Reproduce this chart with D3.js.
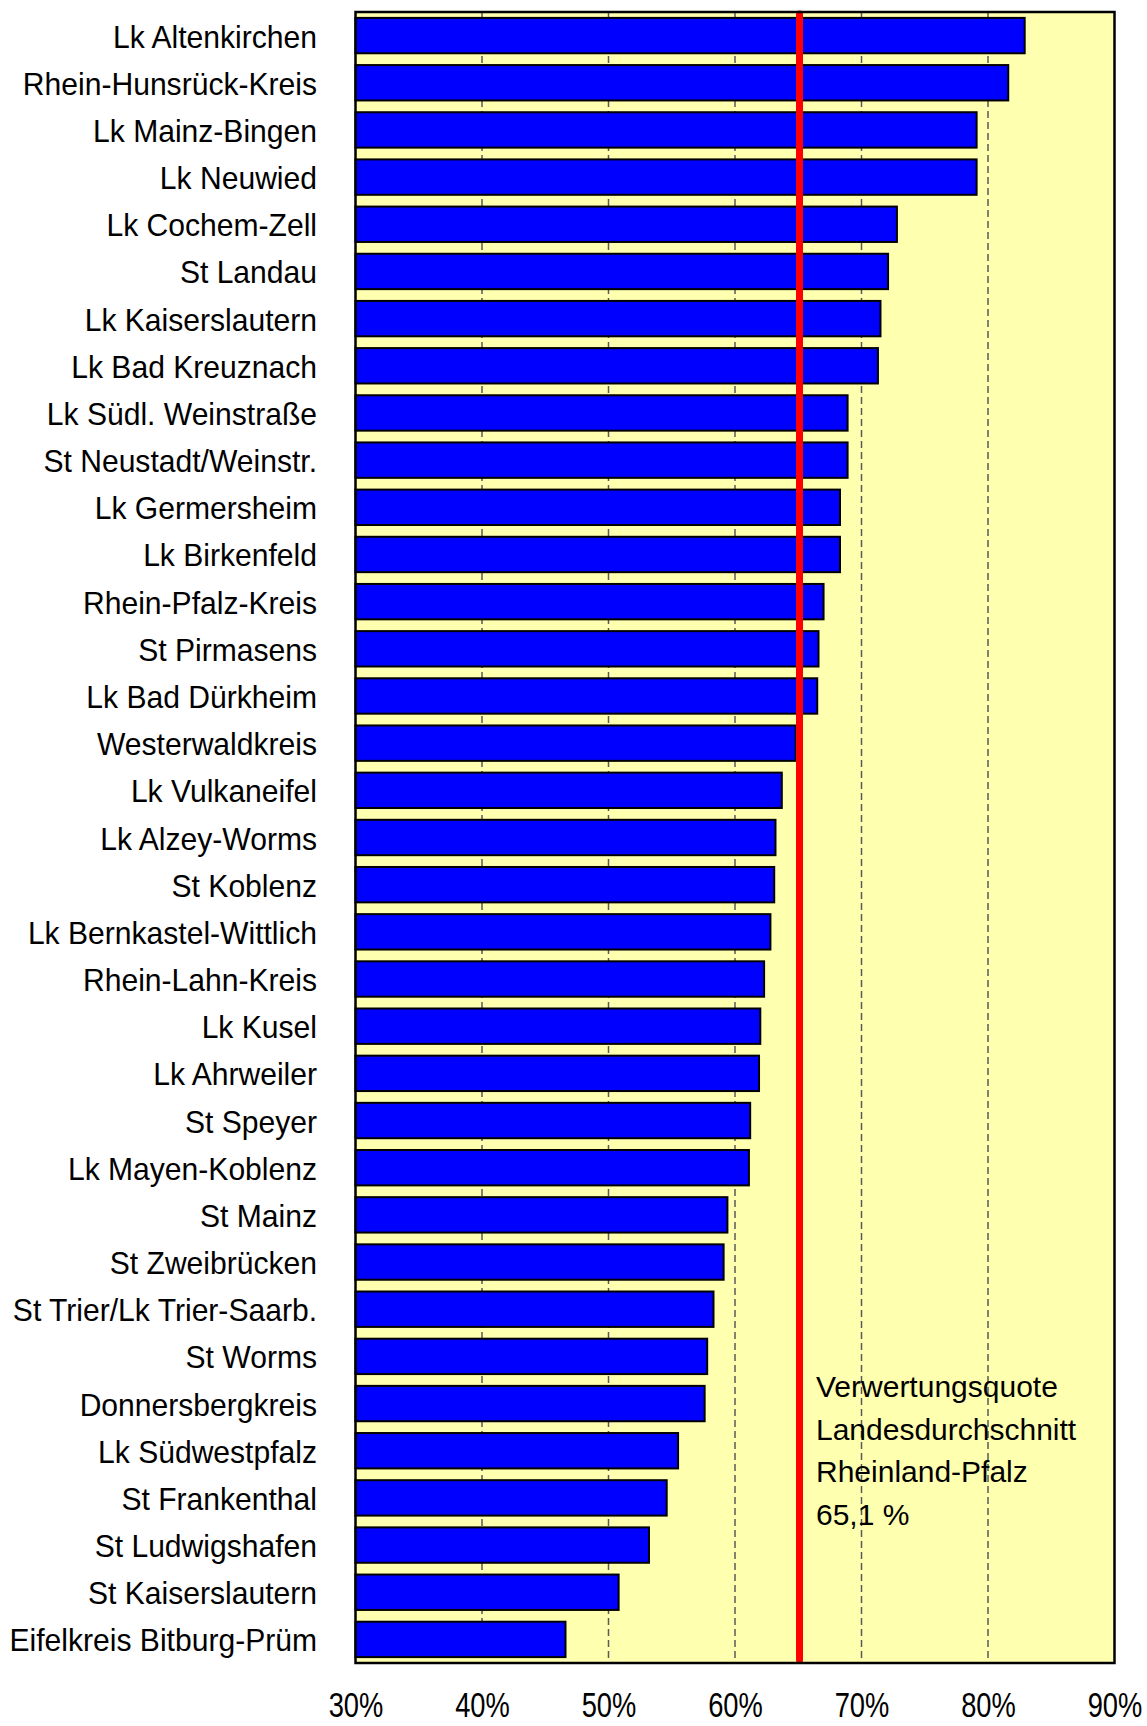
<!DOCTYPE html>
<html>
<head>
<meta charset="utf-8">
<script src="https://cdn.jsdelivr.net/npm/d3@7"></script>
<style>
  body { margin: 0; background: #fff; }
  svg { display: block; }
  text { font-family: "Liberation Sans", Arial, sans-serif; fill: #000; }
</style>
</head>
<body>
<svg id="chart"></svg>
<script>
var categories = [
    "Lk Altenkirchen", "Rhein-Hunsrück-Kreis", "Lk Mainz-Bingen", "Lk Neuwied",
    "Lk Cochem-Zell", "St Landau", "Lk Kaiserslautern", "Lk Bad Kreuznach",
    "Lk Südl. Weinstraße", "St Neustadt/Weinstr.", "Lk Germersheim", "Lk Birkenfeld",
    "Rhein-Pfalz-Kreis", "St Pirmasens", "Lk Bad Dürkheim", "Westerwaldkreis",
    "Lk Vulkaneifel", "Lk Alzey-Worms", "St Koblenz", "Lk Bernkastel-Wittlich",
    "Rhein-Lahn-Kreis", "Lk Kusel", "Lk Ahrweiler", "St Speyer",
    "Lk Mayen-Koblenz", "St Mainz", "St Zweibrücken", "St Trier/Lk Trier-Saarb.",
    "St Worms", "Donnersbergkreis", "Lk Südwestpfalz", "St Frankenthal",
    "St Ludwigshafen", "St Kaiserslautern", "Eifelkreis Bitburg-Prüm"
];
var quota = [
    82.9, 81.6, 79.1, 79.1,
    72.8, 72.1, 71.5, 71.3,
    68.9, 68.9, 68.3, 68.3,
    67.0, 66.6, 66.5, 64.8,
    63.7, 63.2, 63.1, 62.8,
    62.3, 62.0, 61.9, 61.2,
    61.1, 59.4, 59.1, 58.3,
    57.8, 57.6, 55.5, 54.6,
    53.2, 50.8, 46.6
];
var xTicks = [30, 40, 50, 60, 70, 80, 90];
var gridTicks = [40, 50, 60, 70, 80];
var average = 65.1;
var noteLines = ["Verwertungsquote", "Landesdurchschnitt", "Rheinland-Pfalz", "65,1 %"];

var width = 1147;
var height = 1726;

var plotLeft = 355.5;
var plotRight = 1114.5;
var plotTop = 12;
var plotBottom = 1663;

var svg = d3.select("#chart")
    .attr("width", width)
    .attr("height", height);

var x = d3.scaleLinear()
    .domain([30, 90])
    .range([plotLeft, plotRight]);

var y = d3.scaleBand()
    .domain(categories)
    .range([plotTop, plotBottom])
    .paddingInner(0.25)
    .paddingOuter(0.125);

// background
svg.append("rect")
    .attr("x", plotLeft)
    .attr("y", plotTop)
    .attr("width", plotRight - plotLeft)
    .attr("height", plotBottom - plotTop)
    .attr("fill", "#ffffb0");

// dashed grid
svg.selectAll("line.grid")
    .data(gridTicks)
    .enter()
    .append("line")
    .attr("class", "grid")
    .attr("x1", function(d) { return x(d); })
    .attr("x2", function(d) { return x(d); })
    .attr("y1", plotTop)
    .attr("y2", plotBottom)
    .attr("stroke", "#5a5a5a")
    .attr("stroke-width", 1.5)
    .attr("stroke-dasharray", "7,4");

// bars
svg.selectAll("rect.bar")
    .data(quota)
    .enter()
    .append("rect")
    .attr("class", "bar")
    .attr("x", x(30))
    .attr("y", function(d, i) { return y(categories[i]); })
    .attr("width", function(d) { return x(d) - x(30); })
    .attr("height", y.bandwidth())
    .attr("fill", "#0000ff")
    .attr("stroke", "#000")
    .attr("stroke-width", 2);

// average line
svg.append("line")
    .attr("x1", x(average))
    .attr("x2", x(average))
    .attr("y1", plotTop + 2)
    .attr("y2", plotBottom - 3)
    .attr("stroke", "#ff0000")
    .attr("stroke-width", 7)
    .attr("stroke-linecap", "round");

// note
svg.append("g")
    .selectAll("text")
    .data(noteLines)
    .enter()
    .append("text")
    .attr("x", 816)
    .attr("y", function(d, i) { return 1397 + i * 42.5; })
    .style("font-size", "30px")
    .text(String);

// frame
svg.append("rect")
    .attr("x", plotLeft)
    .attr("y", plotTop)
    .attr("width", plotRight - plotLeft)
    .attr("height", plotBottom - plotTop)
    .attr("fill", "none")
    .attr("stroke", "#000")
    .attr("stroke-width", 2.5);

// category labels
var yAxis = svg.append("g")
    .attr("transform", "translate(317,0)")
    .call(d3.axisLeft(y).tickSize(0).tickPadding(0));
yAxis.select(".domain").remove();
yAxis.selectAll("text")
    .attr("x", 0)
    .attr("y", 12)
    .attr("dy", null)
    .attr("transform", "scale(0.94,1)")
    .style("font-size", "32px")
    .style("font-family", "'Liberation Sans', Arial, sans-serif")
    .attr("fill", "#000");

// percent labels
var xAxis = svg.append("g")
    .attr("transform", "translate(0,1717)")
    .call(d3.axisBottom(x).tickValues(xTicks).tickSize(0)
        .tickFormat(function(d) { return d + "%"; }));
xAxis.select(".domain").remove();
xAxis.selectAll("text")
    .attr("y", 0)
    .attr("dy", null)
    .attr("transform", "scale(0.78,1)")
    .style("font-size", "35px")
    .style("font-family", "'Liberation Sans', Arial, sans-serif")
    .attr("fill", "#000");
</script>
</body>
</html>
